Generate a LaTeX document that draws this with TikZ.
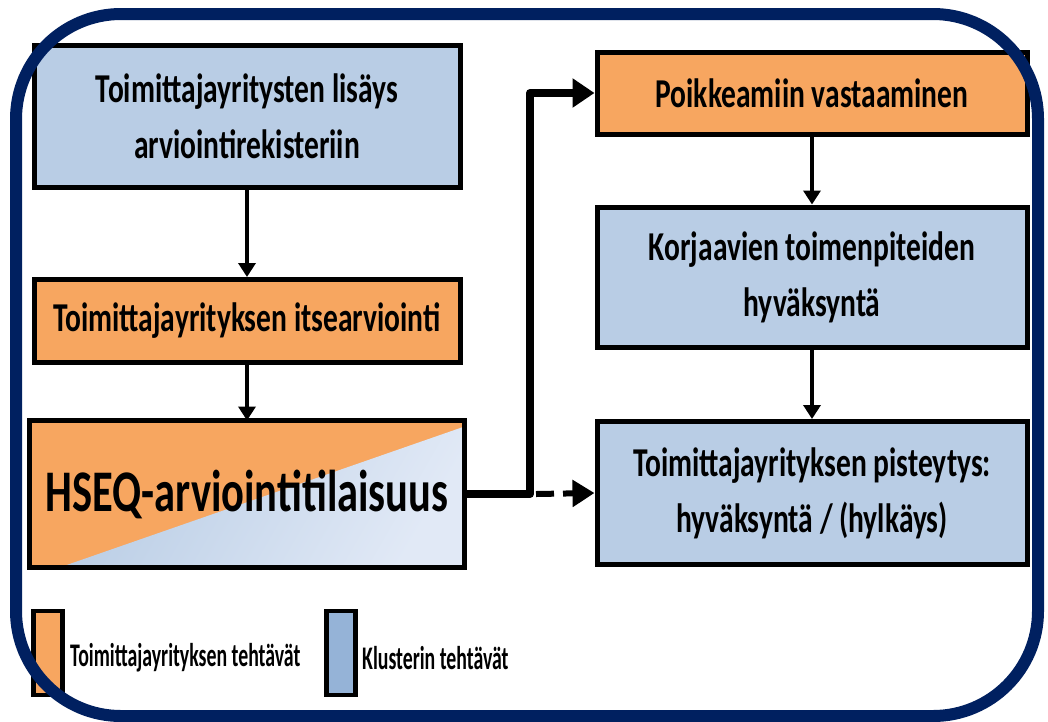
\documentclass[tikz,border=0pt]{standalone}
\usepackage{fontspec}
\setmainfont[FakeStretch=0.72]{Carlito}
\newfontfamily\legfont[FakeStretch=0.6]{Carlito}
\usetikzlibrary{arrows.meta}
\definecolor{boxorange}{RGB}{247,166,96}
\definecolor{boxblue}{RGB}{185,205,229}
\definecolor{legblue}{RGB}{149,179,215}
\definecolor{paleblue}{RGB}{225,233,246}
\definecolor{navy}{RGB}{0,32,96}
\tikzset{
  box/.style={draw=black, line width=5pt, minimum width=426pt, align=center, inner sep=0pt,
    font=\bfseries\fontsize{41}{56}\selectfont},
  flow/.style={line width=4pt, -{Triangle[length=14pt,width=17pt]}},
  bigflow/.style={line width=8pt, -{Triangle[length=22pt,width=28pt]}},
  legbox/.style={draw=black, line width=4.5pt, minimum width=29pt, minimum height=84pt, inner sep=0pt},
  legtext/.style={anchor=west, inner sep=0pt, font=\legfont\bfseries\fontsize{33}{38}\selectfont}
}
\begin{document}
\begin{tikzpicture}[x=1pt,y=-1pt]
\useasboundingbox (0,0) rectangle (1048,721);
\fill[white] (0,0) rectangle (1048,721);
% boxes
\node[box, fill=boxblue, minimum height=142pt] (a) at (247,116) {Toimittajayritysten lisäys\\arviointirekisteriin};
\node[box, fill=boxorange, minimum height=83pt] (b) at (247,321) {Toimittajayrityksen itsearviointi};
% gradient box
\node[box, minimum width=430pt, minimum height=142pt] (c) at (247,494) {};
\fill[boxorange] (c.north west) rectangle (c.south east);
\shade[left color=boxblue, right color=paleblue, shading angle=60]
  ([xshift=30pt]c.south west) -- ([yshift=-6pt]c.north east) -- (c.south east) -- cycle;
\draw[line width=5pt] (c.north west) rectangle (c.south east);
\node[font=\bfseries\fontsize{59}{66}\selectfont, inner sep=0pt] at (c.center) {HSEQ-arviointitilaisuus};
\node[box, fill=boxorange, minimum width=430pt, minimum height=82pt] (d) at (812,93) {Poikkeamiin vastaaminen};
\node[box, fill=boxblue, minimum width=430pt, minimum height=140pt] (e) at (812,277) {Korjaavien toimenpiteiden\\hyväksyntä};
\node[box, fill=boxblue, minimum width=430pt, minimum height=143pt] (f) at (812,493) {Toimittajayrityksen pisteytys:\\hyväksyntä / (hylkäys)};
% connectors
\draw[flow] (a.south) -- (b.north);
\draw[flow] (b.south) -- (c.north);
\draw[flow] (d.south) -- (e.north);
\draw[flow] (e.south) -- (f.north);
\coordinate (j) at (530,494);
\draw[bigflow, line join=round] (c.east) -- (j) |- (d.west);
\draw[line width=6pt, dash pattern=on 18pt off 9pt, -{Triangle[length=22pt,width=26pt]}] ([xshift=6pt]j) -- (f.west);
% legend
\node[legbox, fill=boxorange] (lo) at (48,653) {};
\node[legtext] (lot) at (70,658) {Toimittajayrityksen tehtävät};
\node[legbox, fill=legblue] (lb) at (341,653) {};
\node[legtext] (lbt) at (362,658) {Klusterin tehtävät};
% frame
\draw[navy, line width=12pt, rounded corners=105pt] (16,14) rectangle (1038,716);
\end{tikzpicture}
\end{document}
